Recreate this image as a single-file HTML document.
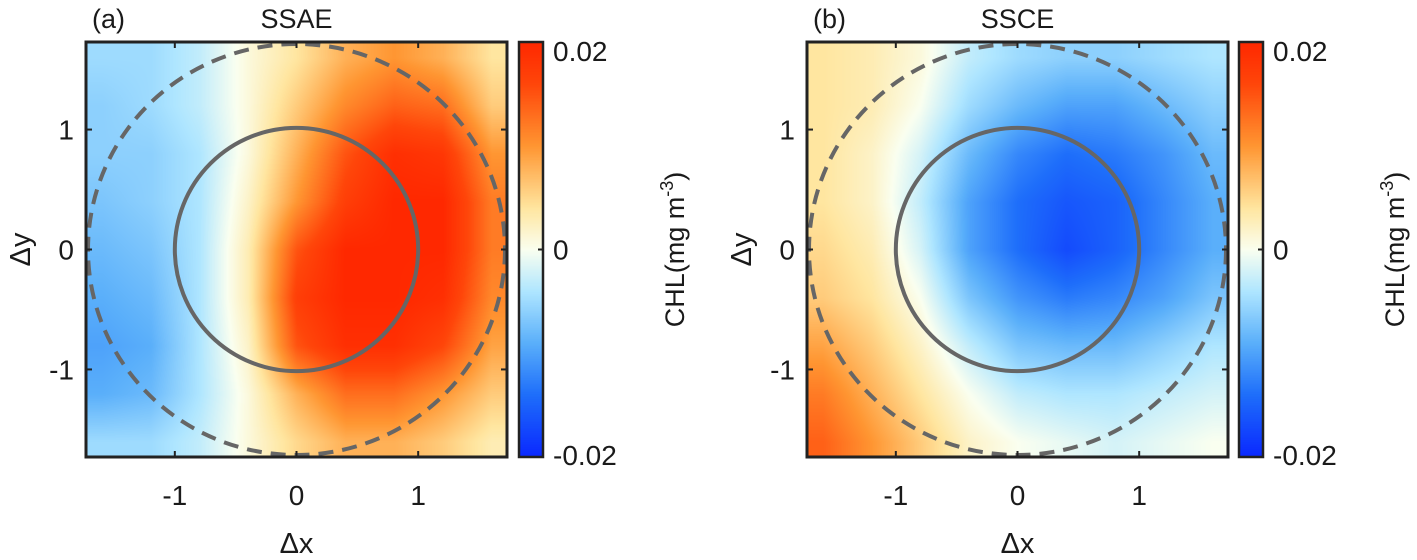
<!DOCTYPE html>
<html><head><meta charset="utf-8"><style>
body{margin:0;background:#fff;width:1417px;height:560px;overflow:hidden;position:relative;font-family:"Liberation Sans",sans-serif}
canvas{position:absolute}
svg{position:absolute;left:0;top:0}
text{font-family:"Liberation Sans",sans-serif;fill:#1a1a1a}
</style></head><body>
<canvas id="ca" width="421" height="415" style="left:86px;top:42px"></canvas>
<canvas id="cb" width="421" height="415" style="left:807px;top:42px"></canvas>
<canvas id="cba" width="24" height="415" style="left:519px;top:42px"></canvas>
<canvas id="cbb" width="24" height="415" style="left:1239px;top:42px"></canvas>
<svg id="s" width="1417" height="560"></svg>
<script>
const gridX=[-1.6,-1.2,-0.8,-0.4,0,0.4,0.8,1.2,1.6];
const gridY=[1.6,1.2,0.8,0.4,0,-0.4,-0.8,-1.2,-1.6];
const ssae=[
[-0.005,-0.005,-0.003,0.001,0.004,0.008,0.010,0.008,0.004],
[-0.006,-0.005,-0.003,0.001,0.006,0.011,0.014,0.013,0.006],
[-0.006,-0.006,-0.004,0.001,0.008,0.015,0.019,0.018,0.010],
[-0.007,-0.006,-0.004,0.002,0.010,0.017,0.020,0.020,0.012],
[-0.008,-0.007,-0.004,0.003,0.015,0.020,0.020,0.020,0.012],
[-0.009,-0.008,-0.004,0.003,0.017,0.020,0.020,0.019,0.011],
[-0.010,-0.009,-0.004,0.002,0.015,0.019,0.019,0.016,0.009],
[-0.009,-0.008,-0.004,0.001,0.008,0.013,0.013,0.010,0.006],
[-0.005,-0.005,-0.003,0.001,0.005,0.008,0.008,0.006,0.003]];
const ssce=[
[0.004,0.003,0.001,-0.003,-0.005,-0.006,-0.006,-0.005,-0.004],
[0.004,0.003,0.000,-0.005,-0.008,-0.010,-0.010,-0.008,-0.006],
[0.004,0.002,-0.002,-0.008,-0.012,-0.014,-0.013,-0.011,-0.008],
[0.004,0.002,-0.003,-0.010,-0.014,-0.016,-0.015,-0.012,-0.009],
[0.005,0.003,-0.002,-0.010,-0.014,-0.017,-0.015,-0.012,-0.009],
[0.006,0.004,0.000,-0.007,-0.011,-0.013,-0.012,-0.010,-0.007],
[0.009,0.006,0.002,-0.003,-0.007,-0.008,-0.008,-0.006,-0.004],
[0.012,0.008,0.004,0.000,-0.003,-0.004,-0.004,-0.003,-0.002],
[0.014,0.010,0.006,0.002,0.000,-0.001,-0.002,-0.001,0.000]];
const xTicks=[-1,0,1], yTicks=[1,0,-1];
const cbTicks=[0.02,0,-0.02], cbLabels=["0.02","0","-0.02"];
const titles=["SSAE","SSCE"], tags=["(a)","(b)"];
const R=1.73, PW=421, PH=415;
const stops=[[-1,[10,40,255]],[-0.7,[30,110,250]],[-0.45,[90,175,250]],[-0.2,[175,230,255]],[0,[250,255,240]],[0.2,[255,230,160]],[0.5,[255,150,50]],[0.8,[255,70,10]],[1,[255,40,0]]];
function cmap(v){let t=Math.max(-1,Math.min(1,v/0.02));for(let i=1;i<stops.length;i++){if(t<=stops[i][0]){const a=stops[i-1],b=stops[i],f=(t-a[0])/(b[0]-a[0]);return a[1].map((c,k)=>Math.round(c+(b[1][k]-c)*f));}}return stops[stops.length-1][1];}
function sample(g,x,y){let fx=(x-gridX[0])/0.4, fy=(gridY[0]-y)/0.4;fx=Math.max(0,Math.min(8,fx));fy=Math.max(0,Math.min(8,fy));const i=Math.min(7,Math.floor(fx)),j=Math.min(7,Math.floor(fy));const u=fx-i,w=fy-j;
return g[j][i]*(1-u)*(1-w)+g[j][i+1]*u*(1-w)+g[j+1][i]*(1-u)*w+g[j+1][i+1]*u*w;}
function drawHeat(id,g){const c=document.getElementById(id).getContext('2d');const im=c.createImageData(PW,PH);
for(let py=0;py<PH;py++)for(let px=0;px<PW;px++){const x=-R+2*R*px/PW,y=R-2*R*py/PH;const col=cmap(sample(g,x,y));const o=(py*PW+px)*4;im.data[o]=col[0];im.data[o+1]=col[1];im.data[o+2]=col[2];im.data[o+3]=255;}c.putImageData(im,0,0);}
function drawCb(id){const c=document.getElementById(id).getContext('2d');for(let py=0;py<PH;py++){const col=cmap(0.02-0.04*py/PH);c.fillStyle=`rgb(${col})`;c.fillRect(0,py,24,1);}}
drawHeat('ca',ssae);drawHeat('cb',ssce);drawCb('cba');drawCb('cbb');
const s=document.getElementById('s'),NS='http://www.w3.org/2000/svg';
function el(t,a,txt){const e=document.createElementNS(NS,t);for(const k in a)e.setAttribute(k,a[k]);if(txt!==undefined)e.textContent=txt;s.appendChild(e);return e;}
[86,807].forEach((L,p)=>{const T=42;const sx=v=>L+(v+R)/(2*R)*PW, sy=v=>T+(R-v)/(2*R)*PH;const cbL=p?1239:519;
let e=el('circle',{cx:sx(0),cy:sy(0),r:(sx(1)-sx(0)),fill:'none',stroke:'#666',"stroke-width":4});

e=el('ellipse',{cx:sx(0),cy:sy(0),rx:sx(R)-sx(0)-2,ry:sy(0)-sy(R)-2,fill:'none',stroke:'#666',"stroke-width":4,"stroke-dasharray":"15 9"});

e=el('rect',{x:L,y:T,width:PW,height:PH,fill:'none',stroke:'#222',"stroke-width":3});

xTicks.forEach(v=>{el('line',{x1:sx(v),x2:sx(v),y1:T+PH,y2:T+PH-6,stroke:'#222',"stroke-width":2});el('line',{x1:sx(v),x2:sx(v),y1:T,y2:T+6,stroke:'#222',"stroke-width":2});
e=el('text',{x:sx(v),y:505,"text-anchor":"middle","font-size":28},String(v));});
yTicks.forEach(v=>{el('line',{x1:L,x2:L+6,y1:sy(v),y2:sy(v),stroke:'#222',"stroke-width":2});el('line',{x1:L+PW,x2:L+PW-6,y1:sy(v),y2:sy(v),stroke:'#222',"stroke-width":2});
e=el('text',{x:L-12,y:sy(v)+10,"text-anchor":"end","font-size":28},String(v));});
e=el('text',{x:sx(0),y:553,"text-anchor":"middle","font-size":29},'Δx');
e=el('text',{x:0,y:0,"text-anchor":"middle","font-size":29,transform:`translate(${L-56},${sy(0)}) rotate(-90)`},'Δy');
e=el('text',{x:sx(0),y:28,"text-anchor":"middle","font-size":27},titles[p]);
e=el('text',{x:L+6,y:28,"font-size":27},tags[p]);
e=el('rect',{x:cbL,y:T,width:24,height:PH,fill:'none',stroke:'#222',"stroke-width":2.5});
cbTicks.forEach((v,i)=>{const y=T+(0.02-v)/0.04*PH;el('line',{x1:cbL+24,x2:cbL+19,y1:y,y2:y,stroke:'#222',"stroke-width":2});
e=el('text',{x:cbL+34,y:Math.min(Math.max(y+10,T+19),T+PH+8),"font-size":28},cbLabels[i]);});
e=el('text',{x:0,y:0,"text-anchor":"middle","font-size":27,transform:`translate(${cbL+165},${sy(0)}) rotate(-90)`});
e.innerHTML='CHL(mg m<tspan dy="-11" font-size="18">-3</tspan><tspan dy="11">)</tspan>';

});
</script>
</body></html>
